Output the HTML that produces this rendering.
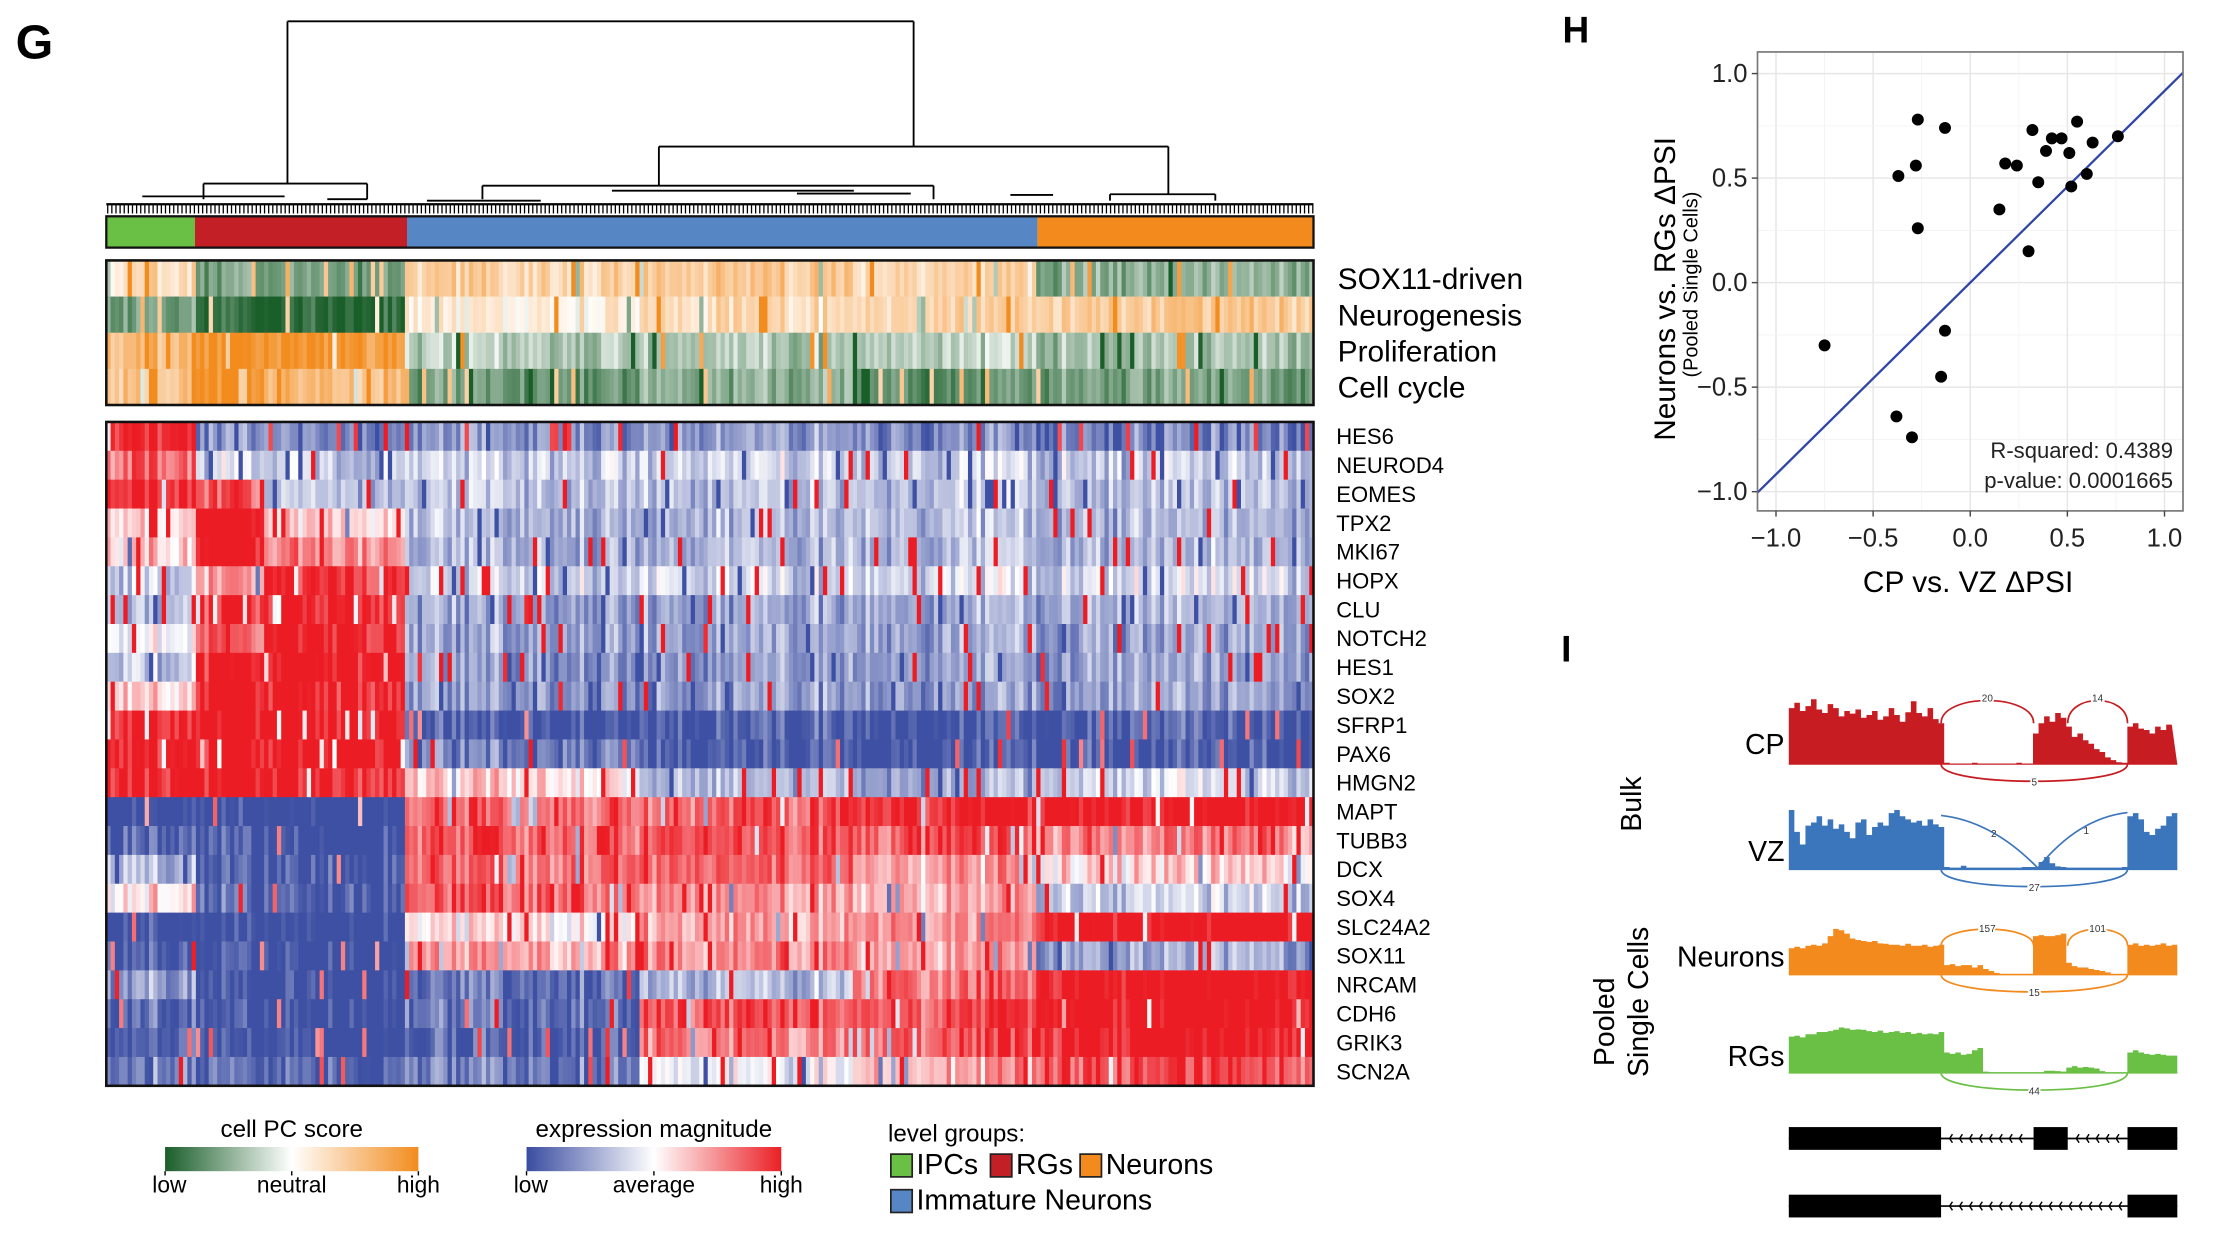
<!DOCTYPE html>
<html><head><meta charset="utf-8">
<style>
html,body{margin:0;padding:0;background:#fff;}
svg{display:block;}
text{font-family:"Liberation Sans",sans-serif;}
.n{font-family:"Liberation Sans Narrow","Liberation Sans",sans-serif;}
</style></head>
<body>
<svg id="fig" xmlns="http://www.w3.org/2000/svg" width="2220" height="1240" viewBox="0 0 1560 871.35">
<rect x="0" y="0" width="1560" height="872" fill="#fff"/>
<text x="11" y="41" font-size="34" font-weight="bold">G</text>
<text x="1098" y="30" font-size="26" font-weight="bold">H</text>
<text x="1097" y="465" font-size="26" font-weight="bold">I</text>
<g id="dendro" stroke="#000" stroke-width="1.3" fill="none"></g>
<g id="groupbar"></g>
<g id="scores"></g>
<g id="genes"></g>
<g id="legend"></g>
<g id="scatter"></g>
<g id="sashimi"></g>
</svg>
<script>
// ---------- DATA ----------
const groupNames = ["IPCs","RGs","Immature Neurons","Neurons"];
const groupColors = ["#6abf45","#c21f26","#5686c4","#f28a1d"];
const groupEdges = [74.7, 137, 286, 729, 923];
const segEdges = [74.7, 137, 185, 286, 450, 600, 729, 923];
const scoreNames = ["SOX11-driven","Neurogenesis","Proliferation","Cell cycle"];
const scoreVals = [
  [0.3,-0.6,-0.6,0.4,0.45,0.35,-0.5],
  [-0.6,-0.95,-0.9,0.15,0.3,0.4,0.45],
  [0.6,0.95,0.9,-0.3,-0.35,-0.3,-0.4],
  [0.5,0.95,0.6,-0.6,-0.5,-0.7,-0.6]
];
const geneNames = ["HES6","NEUROD4","EOMES","TPX2","MKI67","HOPX","CLU","NOTCH2","HES1","SOX2","SFRP1","PAX6","HMGN2","MAPT","TUBB3","DCX","SOX4","SLC24A2","SOX11","NRCAM","CDH6","GRIK3","SCN2A"];
const geneVals = [
  [0.9,-0.6,-0.6,-0.55,-0.5,-0.6,-0.65],
  [0.6,-0.2,-0.25,-0.2,-0.2,-0.25,-0.3],
  [0.8,0.6,-0.3,-0.3,-0.3,-0.3,-0.35],
  [0.2,0.95,0.2,-0.35,-0.35,-0.35,-0.4],
  [0.2,0.95,0.5,-0.35,-0.35,-0.35,-0.4],
  [-0.25,0.3,0.85,-0.2,-0.2,-0.2,-0.2],
  [-0.3,0.8,0.9,-0.45,-0.45,-0.45,-0.45],
  [0.0,0.6,0.9,-0.45,-0.45,-0.45,-0.5],
  [-0.3,0.85,0.95,-0.5,-0.5,-0.5,-0.5],
  [0.2,0.9,0.9,-0.5,-0.5,-0.5,-0.5],
  [0.9,0.95,0.95,-0.85,-0.85,-0.9,-0.85],
  [0.9,0.95,0.95,-0.6,-0.85,-0.9,-0.9],
  [0.9,0.95,0.9,0.2,-0.35,-0.45,-0.2],
  [-1,-1,-1,0.6,0.6,0.85,0.9],
  [-0.8,-0.95,-0.95,0.65,0.65,0.6,0.45],
  [-0.35,-0.95,-0.85,0.6,0.6,0.35,0.15],
  [0.1,-0.8,-0.8,0.6,0.4,0.3,-0.25],
  [-1,-1,-1,0.1,0.35,0.4,1],
  [-0.8,-0.95,-0.95,0.4,0.45,0.35,-0.45],
  [-0.5,-0.95,-0.95,-0.7,-0.35,0.55,1],
  [-0.8,-0.95,-0.95,-0.7,0.65,0.7,1],
  [-0.8,-0.95,-0.95,-0.8,0.5,0.65,0.9],
  [-0.6,-0.8,-0.8,-0.65,-0.1,0.3,0.65]
];
const ptsX = [-0.27,-0.13,-0.37,-0.28,-0.27,-0.75,-0.13,-0.15,-0.38,-0.30,0.15,0.18,0.24,0.32,0.35,0.30,0.39,0.42,0.47,0.51,0.52,0.55,0.60,0.63,0.76];
const ptsY = [0.78,0.74,0.51,0.56,0.26,-0.30,-0.23,-0.45,-0.64,-0.74,0.35,0.57,0.56,0.73,0.48,0.15,0.63,0.69,0.69,0.62,0.46,0.77,0.52,0.67,0.70];
const fitSlope = 0.917, fitIntercept = 0.0;
const xTicks = [-1.0,-0.5,0.0,0.5,1.0];
const yTicks = [-1.0,-0.5,0.0,0.5,1.0];
const xTickLabels = ["\u22121.0","\u22120.5","0.0","0.5","1.0"];
const yTickLabels = ["\u22121.0","\u22120.5","0.0","0.5","1.0"];
const covCP = [0.82,0.9,0.78,0.85,0.95,0.8,0.75,0.88,0.82,0.7,0.78,0.74,0.8,0.68,0.72,0.78,0.65,0.7,0.82,0.72,0.62,0.76,0.92,0.75,0.7,0.82,0.66,0.6,
  0.02,0.01,0.01,0.01,0.01,0.02,0.01,0.01,0.01,0.01,0.01,0.01,0.01,0.02,0.01,0.01,
  0.45,0.6,0.7,0.62,0.75,0.68,
  0.55,0.4,0.45,0.35,0.3,0.22,0.18,0.1,0.06,0.03,0.02,
  0.55,0.6,0.52,0.5,0.45,0.55,0.5,0.58];
const covVZ = [0.95,0.6,0.4,0.7,0.75,0.85,0.7,0.8,0.65,0.72,0.6,0.5,0.75,0.8,0.55,0.68,0.75,0.7,0.9,0.95,0.85,0.8,0.75,0.78,0.7,0.8,0.72,0.68,
  0.04,0.03,0.03,0.06,0.03,0.03,0.03,0.03,0.03,0.03,0.03,0.03,0.03,0.03,0.04,0.04,
  0.04,0.12,0.2,0.1,0.05,0.04,
  0.03,0.03,0.03,0.03,0.03,0.03,0.03,0.03,0.03,0.03,0.04,
  0.85,0.9,0.8,0.6,0.55,0.65,0.7,0.85,0.9];
const covNeu = [0.55,0.58,0.55,0.6,0.62,0.6,0.65,0.8,0.95,0.92,0.85,0.75,0.72,0.7,0.68,0.7,0.65,0.64,0.62,0.62,0.6,0.64,0.6,0.6,0.62,0.58,0.6,0.62,
  0.2,0.22,0.18,0.2,0.2,0.15,0.2,0.12,0.08,0.04,0.02,0.02,0.02,0.02,0.02,0.02,
  0.8,0.82,0.8,0.8,0.82,0.85,
  0.25,0.18,0.15,0.15,0.12,0.1,0.08,0.05,0.02,0.02,0.02,
  0.62,0.65,0.6,0.62,0.6,0.62,0.65,0.6,0.62];
const covRG = [0.8,0.82,0.78,0.85,0.85,0.9,0.9,0.92,0.95,1.0,0.98,0.95,0.96,0.95,0.92,0.9,0.93,0.88,0.9,0.92,0.88,0.9,0.86,0.88,0.85,0.87,0.85,0.9,
  0.45,0.42,0.45,0.4,0.42,0.5,0.55,0.03,0.02,0.02,0.02,0.02,0.02,0.02,0.02,0.02,
  0.02,0.02,0.05,0.05,0.04,0.03,
  0.12,0.15,0.12,0.13,0.12,0.1,0.04,0.02,0.02,0.02,0.02,
  0.45,0.5,0.45,0.42,0.4,0.42,0.4,0.38,0.38];
const trackNames = ["CP","VZ","Neurons","RGs"];
const trackColors = ["#c61c22","#3b75bb","#f28a1e","#6abf45"];
const topArcLabels = [["20","14"],["2","1"],["157","101"],[]];
const bottomArcLabels = ["5","27","15","44"];

// ---------- HELPERS ----------
const NS = "http://www.w3.org/2000/svg";
function mk(tag, attrs, parent){ const e=document.createElementNS(NS,tag); for(const k in attrs) e.setAttribute(k,attrs[k]); if(parent) parent.appendChild(e); return e; }
function lerp(a,b,t){return a+(b-a)*t;}
function mix(c1,c2,t){return "rgb("+[0,1,2].map(i=>Math.round(lerp(c1[i],c2[i],t))).join(",")+")";}
function texture(r,c){
  let h = Math.sin(r*127.1 + c*311.7)*43758.5453; h = h - Math.floor(h);
  let h2 = Math.sin(c*91.3 + 7.7)*12345.678; h2 = h2 - Math.floor(h2);
  let v = (h-0.5)*0.35 + (h2-0.5)*0.45;
  if(h>0.94) v += 1.3; if(h<0.04) v -= 0.7;
  return v;
}
const BLUE=[62,80,163], WHITE=[255,255,255], RED=[236,28,36];
const GREEN=[26,94,42], ORANGE=[242,140,30];
function expColor(v){ v=Math.max(-1,Math.min(1,v)); return v<0?mix(WHITE,BLUE,Math.min(1,-v*1.1)):mix(WHITE,RED,Math.min(1,v*1.15)); }
function scoreColor(v){ v=Math.max(-1,Math.min(1,v)); return v<0?mix(WHITE,GREEN,-v):mix(WHITE,ORANGE,v); }
function segOf(x){ for(let i=0;i<segEdges.length-1;i++){ if(x<segEdges[i+1]) return i;} return segEdges.length-2; }

const HX0=74.7, HX1=923, NCOL=283, CW=(HX1-HX0)/NCOL;

// ---------- DENDROGRAM ----------
(function(){
  const g=document.getElementById('dendro');
  const segs=[[202,15,642,15],[202,15,202,129],[642,15,642,103],[143,129,258,129],[463,103,821,103],[463,103,463,130.5],[821,103,821,136.5],[339,130.5,656,130.5],[780,136.5,854,136.5],
    [143,129,143,140],[258,129,258,140],[339,130.5,339,140],[656,130.5,656,140],[780,136.5,780,141],[854,136.5,854,141],
    [100,138,200,138],[430,134,600,134],[560,136,640,136],[710,137,740,137],[230,140,258,140],[300,141,380,141]];
  segs.forEach(s=>{ const l=mk('line',{x1:s[0],y1:s[1],x2:s[2],y2:s[3]},g);
    
     });
  mk('line',{x1:HX0,y1:143.5,x2:HX1,y2:143.5,'stroke-width':1.6},g);
  let d="";
  for(let x=HX0+1;x<HX1;x+=2.9){ d+="M"+x.toFixed(1)+" 143.5V150"; }
  mk('path',{d:d,'stroke-width':0.9},g);
})();

// ---------- GROUP BAR ----------
(function(){
  const g=document.getElementById('groupbar');
  for(let i=0;i<groupNames.length;i++){
    const r=mk('rect',{x:groupEdges[i],y:152,width:groupEdges[i+1]-groupEdges[i],height:22,fill:groupColors[i]},g);
    
    
  }
  mk('rect',{x:HX0,y:152,width:HX1-HX0,height:22,fill:'none',stroke:'#111','stroke-width':1.6},g);
})();

// ---------- SCORE HEATMAP ----------
(function(){
  const g=document.getElementById('scores');
  const y0=183, rh=25.4;
  scoreNames.forEach((nm,r)=>{
    for(let c=0;c<NCOL;c++){
      const x=HX0+c*CW, s=segOf(x+CW/2);
      const v=scoreVals[r][s]+texture(r+40,c)*0.8;
      const cell=mk('rect',{x:x.toFixed(2),y:(y0+r*rh).toFixed(2),width:(CW+0.4).toFixed(2),height:rh+0.3,fill:scoreColor(v)},g);
      
      
    }
    const t=mk('text',{x:940,y:(y0+r*rh+rh/2+7.5).toFixed(1),'font-size':21},g);
    t.textContent=nm;
    
    
  });
  mk('rect',{x:HX0,y:y0,width:HX1-HX0,height:rh*4,fill:'none',stroke:'#111','stroke-width':1.8},g);
})();

// ---------- GENE HEATMAP ----------
(function(){
  const g=document.getElementById('genes');
  const y0=296.5, rh=(763-296.5)/geneNames.length;
  geneNames.forEach((nm,r)=>{
    for(let c=0;c<NCOL;c++){
      const x=HX0+c*CW, s=segOf(x+CW/2);
      const v=geneVals[r][s]+texture(r,c);
      const cell=mk('rect',{x:x.toFixed(2),y:(y0+r*rh).toFixed(2),width:(CW+0.4).toFixed(2),height:(rh+0.3).toFixed(2),fill:expColor(v)},g);
      
      
    }
    const t=mk('text',{x:939,y:(y0+r*rh+rh/2+5.5).toFixed(1),'font-size':15.5},g);
    t.textContent=nm;
    
    
  });
  mk('rect',{x:HX0,y:y0,width:HX1-HX0,height:763-y0,fill:'none',stroke:'#111','stroke-width':1.8},g);
})();

// ---------- LEGENDS ----------
(function(){
  const g=document.getElementById('legend');
  const defs=mk('defs',{},g);
  const g1=mk('linearGradient',{id:'gScore',x1:0,x2:1,y1:0,y2:0},defs);
  mk('stop',{offset:'0','stop-color':'#1a5e2a'},g1); mk('stop',{offset:'0.5','stop-color':'#ffffff'},g1); mk('stop',{offset:'1','stop-color':'#f28c1e'},g1);
  const g2=mk('linearGradient',{id:'gExp',x1:0,x2:1,y1:0,y2:0},defs);
  mk('stop',{offset:'0','stop-color':'#3a4ca0'},g2); mk('stop',{offset:'0.5','stop-color':'#ffffff'},g2); mk('stop',{offset:'1','stop-color':'#ea2026'},g2);
  function bar(x0,x1,id,title,labs,name){
    const gg=mk('g',{},g);
    
    
    const t=mk('text',{x:(x0+x1)/2,y:799,'font-size':17,'text-anchor':'middle',class:'n'},gg); t.textContent=title;
    mk('rect',{x:x0,y:806,width:x1-x0,height:17,fill:'url(#'+id+')'},gg);
    [0,0.5,1].forEach((f,i)=>{ const x=x0+f*(x1-x0);
      mk('line',{x1:x,y1:823,x2:x,y2:826,stroke:'#000','stroke-width':1},gg);
      const l=mk('text',{x:x+(i==0?3:0),y:838,'font-size':16,'text-anchor':'middle',class:'n'},gg); l.textContent=labs[i]; });
  }
  bar(116,294,'gScore','cell PC score',['low','neutral','high'],'pc-score-legend');
  bar(370,549,'gExp','expression magnitude',['low','average','high'],'expression-legend');
  const lg=mk('g',{},g);
  
  
  const lt=mk('text',{x:624,y:802,'font-size':17,class:'n'},lg); lt.textContent='level groups:';
  const items=[[0,626,825],[1,696,825],[3,759,825],[2,626,850]];
  items.forEach(it=>{
    mk('rect',{x:it[1],y:it[2]-14,width:15,height:16,fill:groupColors[it[0]],stroke:'#222','stroke-width':1.2},lg);
    const tt=mk('text',{x:it[1]+18,y:it[2],'font-size':20,class:'n'},lg); tt.textContent=groupNames[it[0]];
  });
})();

// ---------- SCATTER ----------
(function(){
  const g=document.getElementById('scatter');
  const bx0=1235, bx1=1534, by0=36.5, by1=359;
  const sx=v=>1384.5+v*136.5, sy=v=>198.6-v*146.9;
  mk('rect',{x:bx0,y:by0,width:bx1-bx0,height:by1-by0,fill:'#fff'},g);
  [-1,-0.75,-0.5,-0.25,0,0.25,0.5,0.75,1].forEach((v,i)=>{
    mk('line',{x1:sx(v),y1:by0,x2:sx(v),y2:by1,stroke:i%2?'#f3f3f3':'#e6e6e6','stroke-width':i%2?0.6:1},g);
    mk('line',{x1:bx0,y1:sy(v),x2:bx1,y2:sy(v),stroke:i%2?'#f3f3f3':'#e6e6e6','stroke-width':i%2?0.6:1},g);
  });
  const cl=mk('clipPath',{id:'scClip'},g); mk('rect',{x:bx0,y:by0,width:bx1-bx0,height:by1-by0},cl);
  const fit=mk('line',{x1:sx(-1.2),y1:sy(fitSlope*-1.2+fitIntercept),x2:sx(1.2),y2:sy(fitSlope*1.2+fitIntercept),stroke:'#2f45a8','stroke-width':1.6,'clip-path':'url(#scClip)'},g);
  
  
  ptsX.forEach((x,i)=>{
    const c=mk('circle',{cx:sx(x),cy:sy(ptsY[i]),r:4.2,fill:'#000'},g);
    
    
  });
  mk('rect',{x:bx0,y:by0,width:bx1-bx0,height:by1-by0,fill:'none',stroke:'#7a7a7a','stroke-width':1.2},g);
  xTicks.forEach((v,i)=>{ mk('line',{x1:sx(v),y1:by1,x2:sx(v),y2:by1+4,stroke:'#444','stroke-width':1},g);
    const t=mk('text',{x:sx(v),y:by1+25,'font-size':18,'text-anchor':'middle',fill:'#222'},g); t.textContent=xTickLabels[i];
    
     });
  yTicks.forEach((v,i)=>{ mk('line',{x1:bx0-4,y1:sy(v),x2:bx0,y2:sy(v),stroke:'#444','stroke-width':1},g);
    const t=mk('text',{x:bx0-7,y:sy(v)+6,'font-size':18,'text-anchor':'end',fill:'#222'},g); t.textContent=yTickLabels[i];
    
     });
  const xt=mk('text',{x:1383,y:416,'font-size':21,'text-anchor':'middle'},g); xt.textContent='CP vs. VZ \u0394PSI';
   
  const yt=mk('text',{x:0,y:0,'font-size':21,'text-anchor':'middle',transform:'translate(1177,203) rotate(-90)'},g); yt.textContent='Neurons vs. RGs \u0394PSI';
   
  const ys=mk('text',{x:0,y:0,'font-size':14,'text-anchor':'middle',transform:'translate(1193,200) rotate(-90)'},g); ys.textContent='(Pooled Single Cells)';
   
  const r2=mk('text',{x:1527,y:322,'font-size':15.5,'text-anchor':'end',fill:'#222'},g); r2.textContent='R-squared: 0.4389';
   
  const pv=mk('text',{x:1527,y:343,'font-size':15.5,'text-anchor':'end',fill:'#222'},g); pv.textContent='p-value: 0.0001665';
   
})();

// ---------- SASHIMI ----------
(function(){
  const g=document.getElementById('sashimi');
  const gx0=1257, gx1=1530, NB=70, bw=(gx1-gx0)/NB;
  const e1=1364, e2a=1429, e2b=1453, e3=1495;
  const tracks=[[covCP,489,537,523],[covVZ,567,611,598],[covNeu,651,685,672],[covRG,722,754,742]];
  tracks.forEach((tr,k)=>{
    const cov=tr[0], top=tr[1], base=tr[2], h=base-top, col=trackColors[k];
    let d="M"+gx0+" "+base;
    cov.forEach((v,i)=>{ const x=gx0+i*bw; const y=(base-v*h).toFixed(1); d+=" L"+x.toFixed(1)+" "+y+" L"+(x+bw).toFixed(1)+" "+y; });
    d+=" L"+gx1+" "+base+" Z";
    const p=mk('path',{d:d,fill:col},g);
    
    
    mk('line',{x1:gx0,y1:base,x2:gx1,y2:base,stroke:col,'stroke-width':0.8},g);
    const tl=topArcLabels[k];
    if(k===1){
      mk('path',{d:`M${e1} ${top+6} Q1400 ${top+10} 1432 ${base-1}`,stroke:col,fill:'none','stroke-width':1.2},g);
      mk('path',{d:`M1432 ${base-1} Q1460 ${top+8} ${e3} ${top+4}`,stroke:col,fill:'none','stroke-width':1.2},g);
      const a=mk('text',{x:1401,y:top+21,'font-size':7,'text-anchor':'middle',fill:'#333'},g); a.textContent=tl[0];
      const b=mk('text',{x:1466,y:top+19,'font-size':7,'text-anchor':'middle',fill:'#333'},g); b.textContent=tl[1];
    } else if(tl.length){
      const ay=top-2;
      mk('path',{d:`M${e1} ${base-h*0.6} C${e1} ${ay},${e2a} ${ay},${e2a} ${base-h*0.6}`,stroke:col,fill:'none','stroke-width':1.2},g);
      mk('path',{d:`M${e2b} ${base-h*0.6} C${e2b} ${ay},${e3} ${ay},${e3} ${base-h*0.6}`,stroke:col,fill:'none','stroke-width':1.2},g);
      const a=mk('text',{x:(e1+e2a)/2,y:ay+6,'font-size':7,'text-anchor':'middle',fill:'#333',stroke:'#fff','stroke-width':2.5,'paint-order':'stroke'},g); a.textContent=tl[0];
      const b=mk('text',{x:(e2b+e3)/2,y:ay+6,'font-size':7,'text-anchor':'middle',fill:'#333',stroke:'#fff','stroke-width':2.5,'paint-order':'stroke'},g); b.textContent=tl[1];
    }
    const by=base+16;
    const ba=mk('path',{d:`M${e1} ${base} C${e1} ${by},${e3} ${by},${e3} ${base}`,stroke:col,fill:'none','stroke-width':1.2},g);
    
    
    const bl=mk('text',{x:(e1+e3)/2,y:base+15,'font-size':7,'text-anchor':'middle',fill:'#333',stroke:'#fff','stroke-width':2.5,'paint-order':'stroke'},g); bl.textContent=bottomArcLabels[k];
    const lab=mk('text',{x:1254,y:tr[3]+7,'font-size':20,'text-anchor':'end'},g); lab.textContent=trackNames[k];
    
    
  });
  const bk=mk('text',{x:0,y:0,'font-size':20,'text-anchor':'middle',transform:'translate(1153,565) rotate(-90)'},g); bk.textContent='Bulk';
   
  const p1=mk('text',{x:0,y:0,'font-size':20,'text-anchor':'middle',transform:'translate(1134,718) rotate(-90)'},g); p1.textContent='Pooled';
   
  const p2=mk('text',{x:0,y:0,'font-size':20,'text-anchor':'middle',transform:'translate(1158,704) rotate(-90)'},g); p2.textContent='Single Cells';
   
  function model(y,exons,name){
    const gg=mk('g',{},g);
    
    
    mk('line',{x1:gx0,y1:y+8,x2:gx1,y2:y+8,stroke:'#000','stroke-width':1.2},gg);
    for(let i=0;i<exons.length-1;i++){ for(let x=exons[i][1]+6;x<exons[i+1][0]-3;x+=7){ mk('path',{d:`M${x+2} ${y+5} L${x} ${y+8} L${x+2} ${y+11}`,stroke:'#000',fill:'none','stroke-width':1},gg);} }
    exons.forEach(e=>mk('rect',{x:e[0],y:y,width:e[1]-e[0],height:16,fill:'#000'},gg));
  }
  model(792,[[gx0,e1],[e2a,e2b],[e3,gx1]],'isoform-inclusion');
  model(839.5,[[gx0,e1],[e3,gx1]],'isoform-skipping');
})();
</script>
</body></html>
